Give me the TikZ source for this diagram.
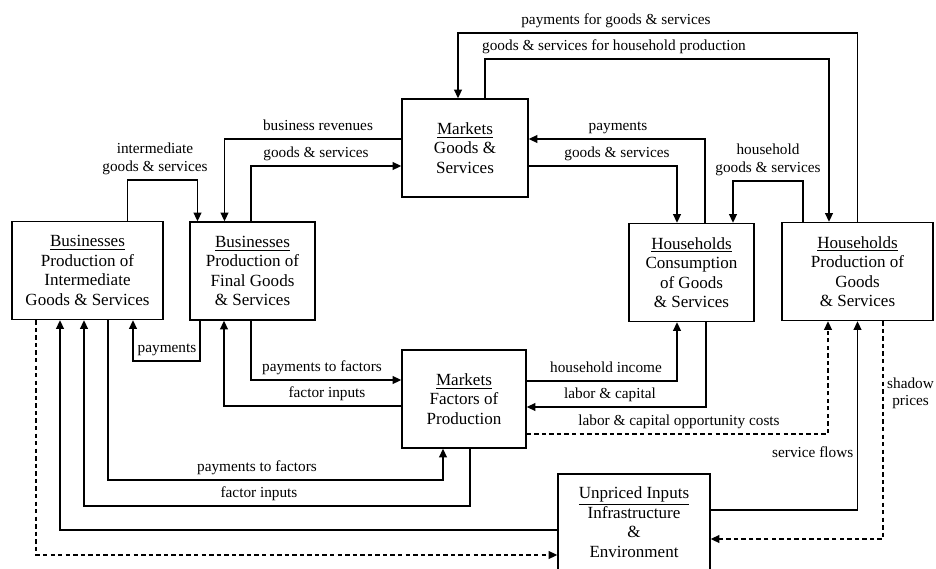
\documentclass[tikz,border=0pt]{standalone}
\usepackage{fontspec}
\setmainfont{Liberation Serif}
\usetikzlibrary{arrows.meta}

\newcommand{\bxfont}{\fontsize{9.7}{11.1}\selectfont}
\newcommand{\lbfont}{\fontsize{8.7}{10}\selectfont}

\begin{document}
\begin{tikzpicture}[x=0.02cm, y=-0.02cm,
        box/.style={draw, line width=0.8pt, rectangle, align=center, font=\bxfont, minimum height=1.96cm, inner sep=2pt},
        flow/.style={line width=0.8pt, -{Triangle[length=5pt, width=4.5pt]}},
        dashflow/.style={flow, dash pattern=on 2.5pt off 1.8pt},
        lab/.style={font=\lbfont, above, inner sep=2pt, text height=0.7em, text depth=0.25em, align=center}
    ]
        \useasboundingbox (0,0) rectangle (936,568);

        % --- Businesses ---
        \node[box, minimum width=3.02cm] (BI) at (87.5, 270.5) {\underline{Businesses}\\Production of\\Intermediate\\Goods \& Services};
        \node[box, minimum width=2.5cm] (BF) at (252.5, 271) {\underline{Businesses}\\Production of\\Final Goods\\\& Services};

        % --- Markets ---
        \node[box, minimum width=2.52cm] (MG) at (465, 148) {\underline{Markets}\\Goods \&\\Services};
        \node[box, minimum width=2.48cm] (MF) at (464, 399) {\underline{Markets}\\Factors of\\Production};

        % --- Households ---
        \node[box, minimum width=2.5cm] (HC) at (691.5, 272.5) {\underline{Households}\\Consumption\\of Goods\\\& Services};
        \node[box, minimum width=3.02cm] (HP) at (857.5, 271.5) {\underline{Households}\\Production of\\Goods\\\& Services};

        % --- Unpriced inputs ---
        \node[box, minimum width=3.04cm, minimum height=1.92cm] (UI) at (634, 522) {\underline{Unpriced Inputs}\\Infrastructure\\\&\\Environment};

        % --- Goods market flows (top) ---
        \draw[flow] (HP.north) |- (616,33) node[lab] {payments for goods \& services} -| ([shift={(-7,0)}]MG.north);
        \draw[flow] ([shift={(20,0)}]MG.north) |- (614,59) node[lab] {goods \& services for household production} -| ([shift={(-28.5,0)}]HP.north);
        \draw[flow] ([shift={(0,-9)}]MG.west) -- (318,139) node[lab] {business revenues} -| ([shift={(-28,0)}]BF.north);
        \draw[flow] ([shift={(-1.5,0)}]BF.north) |- (316,166) node[lab] {goods \& services} -- ([shift={(0,18)}]MG.west);
        \draw[flow] ([shift={(40,0)}]BI.north) |- (155,180) node[lab] {intermediate\\goods \& services} -| ([shift={(-55,0)}]BF.north);
        \draw[flow] ([shift={(13.5,0)}]HC.north) |- (618,139) node[lab] {payments} -- ([shift={(0,-9)}]MG.east);
        \draw[flow] ([shift={(0,18)}]MG.east) -- (617,166) node[lab] {goods \& services} -| ([shift={(-14.5,0)}]HC.north);
        \draw[flow] ([shift={(-54.5,0)}]HP.north) |- (768,181) node[lab] {household\\goods \& services} -| ([shift={(41.5,0)}]HC.north);

        % --- Factor market flows (bottom) ---
        \draw[flow] ([shift={(-52.5,0)}]BF.south) |- (167,361) node[lab] {payments} -| ([shift={(45.5,0)}]BI.south);
        \draw[flow] ([shift={(-1.5,0)}]BF.south) |- (322,380) node[lab] {payments to factors} -- ([shift={(0,-19)}]MF.west);
        \draw[flow] ([shift={(0,7)}]MF.west) -- (327,406) node[lab] {factor inputs} -| ([shift={(-28.5,0)}]BF.south);
        \draw[flow] ([shift={(20.5,0)}]BI.south) |- (257,480) node[lab] {payments to factors} -| ([shift={(-21,0)}]MF.south);
        \draw[flow] ([shift={(6,0)}]MF.south) |- (259,506) node[lab] {factor inputs} -| ([shift={(-3.5,0)}]BI.south);
        \draw[flow] ([shift={(0,-18)}]MF.east) -- (606,381) node[lab] {household income} -| ([shift={(-14.5,0)}]HC.south);
        \draw[flow] ([shift={(14.5,0)}]HC.south) |- (610,407) node[lab] {labor \& capital} -- ([shift={(0,8)}]MF.east);
        \draw[dashflow] ([shift={(0,35)}]MF.east) -- (679,434) node[lab] {labor \& capital opportunity costs} -| ([shift={(-29.5,0)}]HP.south);

        % --- Unpriced inputs flows ---
        \draw[flow] ([shift={(0,8)}]UI.west) -| ([shift={(-27.5,0)}]BI.south);
        \draw[dashflow] ([shift={(-51.5,0)}]BI.south) |- ([shift={(0,33)}]UI.west);
        \draw[flow] ([shift={(0,-12)}]UI.east) -| node[lab, pos=0.65, left] {service flows} (HP.south);
        \draw[dashflow] ([shift={(25.5,0)}]HP.south) |- node[lab, pos=0.185, right] {shadow\\prices} ([shift={(0,17)}]UI.east);

    \end{tikzpicture}
\end{document}
